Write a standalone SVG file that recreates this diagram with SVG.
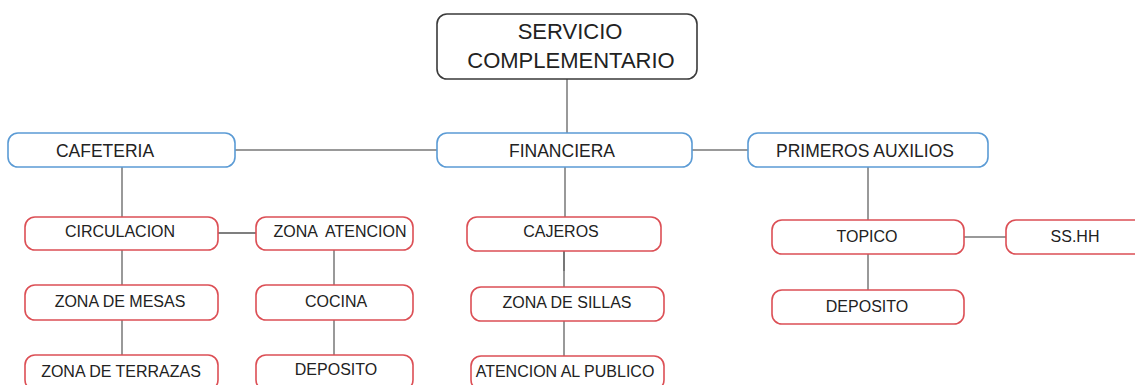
<svg xmlns="http://www.w3.org/2000/svg" width="1135" height="385" viewBox="0 0 1135 385">
<style>
.top{fill:#fff;stroke:#3a3a3a;stroke-width:1.6}
.blue{fill:#fff;stroke:#5b9bd5;stroke-width:1.6}
.red{fill:#fff;stroke:#dc4f55;stroke-width:1.6}
text{font-family:"Liberation Sans",Arial,sans-serif;fill:#222;text-anchor:middle}
.t1{font-size:22px}
.t2{font-size:17.5px}
.t3{font-size:16px}
.ln{stroke:#999;stroke-width:2;fill:none}
.dk{stroke:#555;stroke-width:1.6;fill:none}
</style>
<g id="connectors">
<line class="ln" x1="567" y1="79" x2="567" y2="133"/>
<line class="ln" x1="235" y1="150" x2="437" y2="150"/>
<line class="ln" x1="692" y1="150" x2="748" y2="150"/>
<line class="ln" x1="122" y1="167" x2="122" y2="217"/>
<line class="dk" x1="218" y1="233" x2="256" y2="233"/>
<line class="ln" x1="122" y1="250" x2="122" y2="285"/>
<line class="ln" x1="122" y1="320" x2="122" y2="355"/>
<line class="ln" x1="334" y1="250" x2="334" y2="285"/>
<line class="ln" x1="334" y1="320" x2="334" y2="355"/>
<line class="ln" x1="565" y1="167" x2="565" y2="217"/>
<line class="dk" x1="564" y1="251" x2="564" y2="271"/>
<line class="ln" x1="564" y1="271" x2="564" y2="287"/>
<line class="ln" x1="564" y1="321" x2="564" y2="356"/>
<line class="ln" x1="868" y1="167" x2="868" y2="220"/>
<line class="ln" x1="964" y1="237" x2="1006" y2="237"/>
<line class="ln" x1="868" y1="254" x2="868" y2="290"/>
</g>
<g id="servicio">
<rect class="top" x="437" y="14" width="260" height="65" rx="10"/>
<text class="t1" x="570" y="39">SERVICIO</text>
<text class="t1" x="571" y="68">COMPLEMENTARIO</text>
</g>
<g id="cafeteria">
<rect class="blue" x="8" y="133" width="227" height="34" rx="10"/>
<text class="t2" x="105" y="157">CAFETERIA</text>
</g>
<g id="financiera">
<rect class="blue" x="437" y="133" width="255" height="34" rx="10"/>
<text class="t2" x="562" y="157">FINANCIERA</text>
</g>
<g id="primeros">
<rect class="blue" x="748" y="133" width="240" height="34" rx="10"/>
<text class="t2" x="865" y="157">PRIMEROS AUXILIOS</text>
</g>
<g id="circulacion">
<rect class="red" x="25" y="217" width="193" height="33" rx="10"/>
<text class="t3" x="120" y="237">CIRCULACION</text>
</g>
<g id="zona-atencion">
<rect class="red" x="256" y="217" width="157" height="33" rx="10"/>
<text class="t3" x="340" y="237" xml:space="preserve">ZONA  ATENCION</text>
</g>
<g id="zona-mesas">
<rect class="red" x="25" y="285" width="193" height="35" rx="10"/>
<text class="t3" x="120" y="307">ZONA DE MESAS</text>
</g>
<g id="zona-terrazas">
<rect class="red" x="25" y="355" width="193" height="35" rx="10"/>
<text class="t3" x="121" y="377">ZONA DE TERRAZAS</text>
</g>
<g id="cocina">
<rect class="red" x="256" y="285" width="157" height="35" rx="10"/>
<text class="t3" x="336" y="307">COCINA</text>
</g>
<g id="deposito-caf">
<rect class="red" x="256" y="355" width="157" height="35" rx="10"/>
<text class="t3" x="336" y="375">DEPOSITO</text>
</g>
<g id="cajeros">
<rect class="red" x="467" y="217" width="194" height="34" rx="10"/>
<text class="t3" x="561" y="237">CAJEROS</text>
</g>
<g id="zona-sillas">
<rect class="red" x="471" y="287" width="193" height="34" rx="10"/>
<text class="t3" x="567" y="308">ZONA DE SILLAS</text>
</g>
<g id="atencion-publico">
<rect class="red" x="471" y="356" width="193" height="34" rx="10"/>
<text class="t3" x="565" y="377">ATENCION AL PUBLICO</text>
</g>
<g id="topico">
<rect class="red" x="772" y="220" width="192" height="34" rx="10"/>
<text class="t3" x="867" y="242">TOPICO</text>
</g>
<g id="sshh">
<rect class="red" x="1006" y="220" width="140" height="34" rx="10"/>
<text class="t3" x="1075" y="242">SS.HH</text>
</g>
<g id="deposito-pa">
<rect class="red" x="772" y="290" width="192" height="34" rx="10"/>
<text class="t3" x="867" y="312">DEPOSITO</text>
</g>
</svg>
